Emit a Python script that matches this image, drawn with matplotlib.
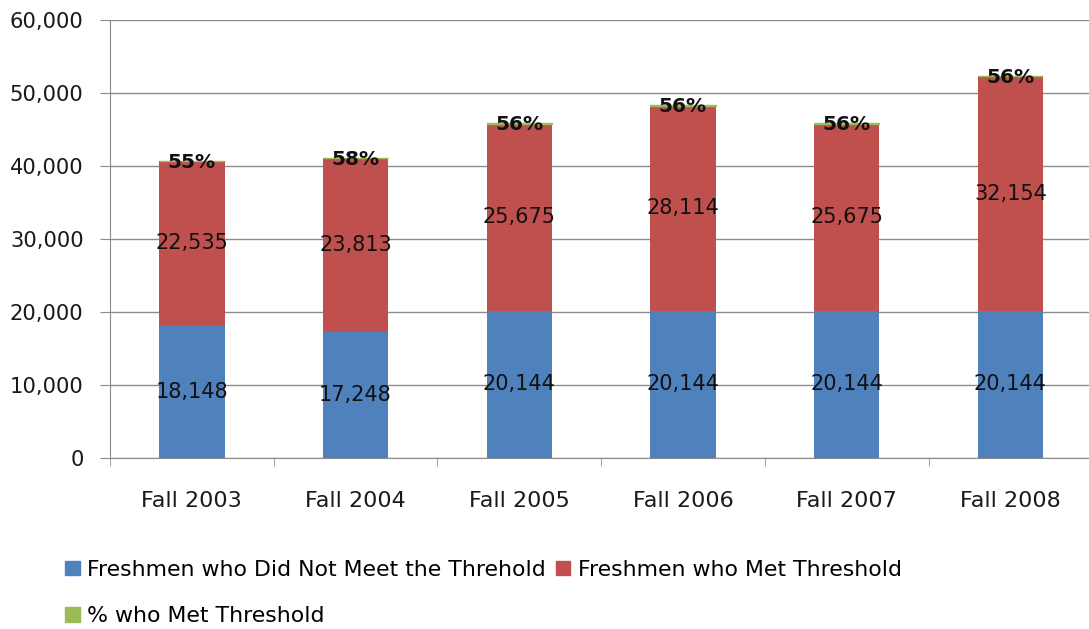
import matplotlib.pyplot as plt
from matplotlib.patches import Patch
from matplotlib.ticker import FuncFormatter, FixedLocator

terms = ['Fall 2003', 'Fall 2004', 'Fall 2005', 'Fall 2006', 'Fall 2007', 'Fall 2008']
not_met = [18148, 17248, 20144, 20144, 20144, 20144]
met = [22535, 23813, 25675, 28114, 25675, 32154]
pct_met = [55, 58, 56, 56, 56, 56]

blue = '#4f81bd'
red = '#c0504d'
green = '#9bbb59'

plt.rcParams['font.family'] = ['DejaVu Sans']

fig = plt.figure(figsize=(10.89, 6.29), dpi=100)
ax = fig.add_axes([0.101, 0.272, 0.902, 0.696])

x = list(range(len(terms)))
tops = [a + b for a, b in zip(not_met, met)]
ax.bar(x, not_met, width=0.4, color=blue, zorder=3)
ax.bar(x, met, width=0.4, bottom=not_met, color=red, zorder=3)
ax.bar(x, pct_met, width=0.4, bottom=tops, color=green, edgecolor=green, linewidth=1.0, zorder=3)

for i in x:
    ax.text(i, not_met[i] / 2, f'{not_met[i]:,}', ha='center', va='center', fontsize=15, color='#111111', zorder=5)
    ax.text(i, not_met[i] + met[i] / 2, f'{met[i]:,}', ha='center', va='center', fontsize=15, color='#111111', zorder=5)
    ax.text(i, tops[i] - 150, f'{pct_met[i]}%', ha='center', va='center', fontsize=14.5, fontweight='bold', color='#111111', zorder=5)

ax.set_ylim(0, 60000)
ax.set_xlim(-0.5, 5.5)
ax.set_yticks(range(0, 60001, 10000))
ax.yaxis.set_major_formatter(FuncFormatter(lambda v, _: f'{int(v):,}'))
ax.yaxis.grid(True, color='#8c8c8c', linewidth=1, zorder=0)
ax.set_xticks(x)
ax.set_xticklabels(terms, fontsize=16, color='#1a1a1a')
ax.tick_params(axis='x', length=0, pad=24)
ax.xaxis.set_minor_locator(FixedLocator([i - 0.5 for i in range(len(terms) + 1)]))
ax.tick_params(axis='x', which='minor', length=6, color='#8c8c8c')
ax.tick_params(axis='y', labelsize=15.2, labelcolor='#1a1a1a', length=7, color='#8c8c8c', pad=12)

for side in ['top', 'right']:
    ax.spines[side].set_visible(False)
ax.spines['left'].set_color('#8c8c8c')
ax.spines['bottom'].set_color('#8c8c8c')

handles = [Patch(color=blue, label='Freshmen who Did Not Meet the Threhold'),
           Patch(color=green, label='% who Met Threshold'),
           Patch(color=red, label='Freshmen who Met Threshold')]
fig.legend(handles=handles, ncol=2, loc='upper left', bbox_to_anchor=(0.06, 0.11),
           frameon=False, fontsize=15.8, handlelength=0.65, handleheight=0.65,
           handletextpad=0.35, columnspacing=0.45, labelspacing=1.2, borderaxespad=0, borderpad=0)

fig.savefig('out.png', dpi=100)
